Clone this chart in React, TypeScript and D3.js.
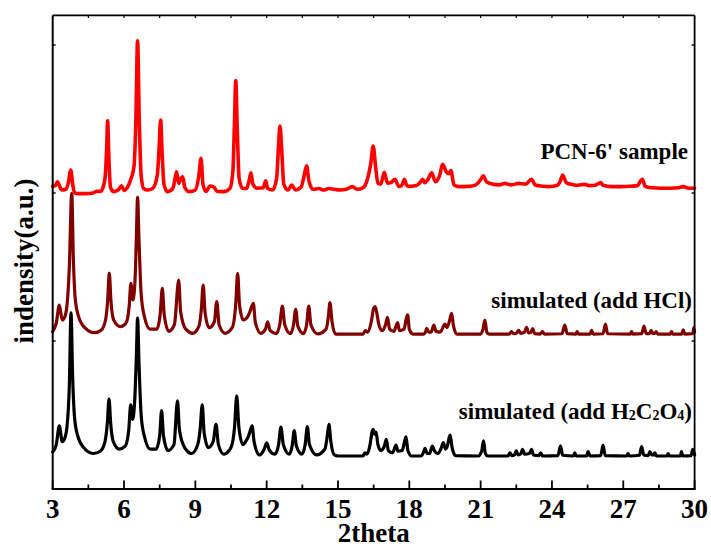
import React from "react";
import * as d3 from "d3";

// 2θ tick values
const X_TICKS = [3, 6, 9, 12, 15, 18, 21, 24, 27, 30];
const X_MINOR = [4.5, 7.5, 10.5, 13.5, 16.5, 19.5, 22.5, 25.5, 28.5];
const Y_TICKS = [0, 100, 200, 300];

// Measured pattern: PCN-6' sample (stacked intensity, a.u.)
const SAMPLE: [number, number][] = [
  [3.0, 204.5], [3.1, 204.8], [3.2, 207.6], [3.28, 205], [3.38, 202], [3.55, 202.5], [3.66, 207], [3.76, 215.5],
  [3.84, 206], [3.92, 200], [4.1, 199.6], [4.4, 199.6], [4.7, 200], [4.85, 201.2], [5.0, 201], [5.1, 203],
  [5.2, 210], [5.27, 230], [5.31, 248.8], [5.36, 225], [5.43, 204], [5.55, 200.9], [5.75, 202], [5.9, 204.9],
  [6.0, 201.8], [6.15, 204], [6.3, 209.9], [6.42, 218], [6.5, 250], [6.57, 302.9], [6.64, 250], [6.72, 212],
  [6.82, 203.2], [7.0, 202], [7.2, 203], [7.4, 212], [7.48, 232], [7.54, 249.3], [7.6, 228], [7.68, 206],
  [7.82, 200.9], [8.05, 203], [8.15, 210], [8.21, 214.4], [8.3, 206.6], [8.4, 210], [8.47, 211], [8.55, 204],
  [8.75, 200.9], [9.0, 202], [9.15, 212], [9.24, 223.4], [9.32, 206], [9.45, 201], [9.62, 204.7], [9.78, 204],
  [9.92, 201], [10.2, 200.9], [10.45, 203], [10.58, 215], [10.65, 250], [10.7, 275.9], [10.76, 245], [10.84, 210],
  [10.98, 203.2], [11.15, 203], [11.27, 209], [11.34, 213.7], [11.42, 206], [11.6, 203.2], [11.85, 203.5], [11.96, 208.3],
  [12.04, 203], [12.25, 202], [12.42, 210], [12.5, 232], [12.56, 245.3], [12.63, 230], [12.72, 206], [12.9, 202],
  [13.05, 205.3], [13.22, 202], [13.45, 204], [13.58, 212], [13.68, 218.4], [13.78, 208], [13.95, 202.5], [14.2, 203],
  [14.4, 202], [14.6, 203], [14.85, 202.5], [15.1, 202], [15.35, 202.5], [15.6, 204.3], [15.8, 202.5], [16.05, 203.5],
  [16.25, 210], [16.38, 220], [16.48, 231.8], [16.58, 218], [16.68, 206.6], [16.8, 206], [16.95, 214], [17.08, 206.6],
  [17.22, 207], [17.4, 209.3], [17.55, 204.5], [17.68, 205], [17.79, 209.3], [17.9, 204.9], [18.05, 204.5], [18.3, 205],
  [18.45, 207], [18.56, 209.3], [18.65, 207], [18.78, 209], [18.94, 213.7], [19.1, 207.6], [19.28, 212], [19.4, 219.4],
  [19.55, 214.4], [19.65, 213], [19.75, 215.1], [19.88, 205.4], [20.1, 204.3], [20.5, 204.5], [20.8, 205.5], [21.0, 209],
  [21.11, 211.7], [21.25, 207.5], [21.5, 206], [21.8, 205.5], [22.0, 206.5], [22.3, 205.5], [22.6, 206.5], [22.9, 206],
  [23.14, 209.3], [23.3, 205.4], [23.6, 204.6], [23.9, 204.3], [24.2, 205], [24.35, 208], [24.45, 212.2], [24.6, 207],
  [24.85, 205.8], [25.1, 205.2], [25.35, 205.8], [25.6, 205], [25.85, 205.4], [26.05, 207], [26.15, 205.2], [26.5, 204.3],
  [26.9, 204.3], [27.3, 204.6], [27.6, 205], [27.72, 208], [27.8, 209.3], [27.92, 204.5], [28.2, 203.5], [28.6, 203.2],
  [29.0, 203.2], [29.3, 203.5], [29.52, 204.3], [29.75, 203.2], [30.0, 203.2],
];

// Simulated pattern with HCl
const SIM_HCL: [number, number][] = [
  [3.0, 106.3], [3.15, 112], [3.28, 124.3], [3.4, 114.2], [3.5, 116], [3.6, 124], [3.7, 150], [3.8, 199.8],
  [3.87, 155], [3.95, 128], [4.08, 117], [4.35, 109], [4.75, 105.6], [5.05, 107.5], [5.22, 114], [5.31, 127],
  [5.38, 145.9], [5.45, 127], [5.57, 114], [5.85, 109.7], [6.08, 112], [6.22, 124], [6.29, 139], [6.37, 127.7],
  [6.46, 140], [6.52, 170], [6.57, 197.1], [6.63, 168], [6.72, 132], [6.85, 117], [7.1, 108], [7.38, 108],
  [7.52, 118], [7.61, 135.6], [7.69, 118], [7.88, 106.5], [8.12, 111], [8.3, 141.2], [8.38, 120], [8.6, 108],
  [8.9, 105.2], [9.15, 110], [9.25, 121], [9.33, 137.8], [9.41, 119], [9.58, 109], [9.8, 113], [9.9, 126.6],
  [10.0, 111], [10.25, 105.2], [10.55, 109], [10.7, 125], [10.78, 145.7], [10.86, 124], [11.02, 114.2], [11.2, 116.4],
  [11.3, 120], [11.44, 125.5], [11.52, 113], [11.75, 105.2], [11.95, 108], [12.04, 113], [12.15, 107], [12.4, 105],
  [12.55, 111], [12.66, 123.6], [12.76, 111], [13.0, 105], [13.13, 111], [13.22, 121.4], [13.31, 110], [13.55, 105],
  [13.68, 111], [13.77, 123.6], [13.86, 111], [14.15, 104.8], [14.5, 108], [14.6, 117], [14.66, 125.9], [14.75, 113],
  [14.9, 104.7], [16.05, 104.7], [16.15, 107], [16.25, 106], [16.4, 113], [16.5, 122.1], [16.56, 123.2], [16.62, 120],
  [16.72, 111], [16.85, 107], [17.0, 111], [17.08, 116], [17.17, 108], [17.35, 106.5], [17.51, 112.4], [17.58, 107],
  [17.78, 108], [17.87, 115], [17.93, 117.6], [18.0, 108], [18.15, 104.7], [18.6, 104.7], [18.68, 106], [18.73, 108.6],
  [18.82, 106], [18.92, 106], [19.03, 110.8], [19.12, 106.5], [19.3, 106], [19.44, 110], [19.5, 111.5], [19.58, 109],
  [19.68, 113], [19.78, 118.7], [19.86, 110], [20.0, 104.7], [21.0, 104.7], [21.1, 108], [21.18, 114.2], [21.26, 106],
  [21.35, 104.7], [22.2, 104.7], [22.3, 106.3], [22.38, 104.9], [22.5, 105.2], [22.6, 107.2], [22.68, 105.2], [22.85, 106],
  [22.93, 109.3], [23.02, 105.5], [23.12, 106], [23.19, 108.4], [23.27, 105], [23.5, 104.7], [23.6, 106.3], [23.68, 104.7],
  [24.42, 104.9], [24.54, 110.8], [24.64, 105], [25.0, 104.7], [25.06, 106.3], [25.12, 104.7], [25.6, 104.7], [25.67, 107.2],
  [25.74, 104.7], [26.15, 104.9], [26.25, 111.5], [26.34, 104.9], [27.3, 104.7], [27.35, 106.3], [27.4, 104.7], [27.78, 105],
  [27.87, 110.1], [27.96, 105], [28.12, 105], [28.17, 107.2], [28.24, 105.2], [28.32, 105.2], [28.38, 106.3], [28.45, 104.7],
  [28.98, 104.7], [29.03, 106.3], [29.08, 104.7], [29.46, 104.7], [29.52, 107.5], [29.58, 104.7], [29.92, 105], [29.97, 109],
  [30.0, 106],
];

// Simulated pattern with H2C2O4
const SIM_OXALIC: [number, number][] = [
  [3.0, 25], [3.15, 30], [3.28, 42.6], [3.4, 32], [3.5, 34], [3.6, 42], [3.7, 70], [3.77, 119],
  [3.84, 75], [3.92, 48], [4.05, 36], [4.3, 28], [4.7, 24], [5.0, 25.5], [5.2, 32], [5.3, 45],
  [5.37, 60.8], [5.44, 44], [5.55, 32], [5.8, 27], [6.05, 29], [6.2, 40], [6.28, 56.8], [6.36, 47],
  [6.45, 60], [6.52, 90], [6.57, 115.5], [6.63, 85], [6.72, 50], [6.85, 36], [7.1, 27], [7.35, 27],
  [7.5, 36], [7.58, 52.9], [7.66, 36], [7.85, 26], [8.1, 30], [8.25, 59.5], [8.33, 40], [8.55, 28],
  [8.85, 24], [9.1, 30], [9.2, 40], [9.29, 56.8], [9.37, 38], [9.55, 28], [9.75, 32], [9.87, 43.7],
  [9.97, 30], [10.2, 23.5], [10.5, 28], [10.65, 42], [10.74, 63], [10.83, 42], [11.0, 30], [11.15, 33],
  [11.22, 35], [11.32, 40], [11.39, 42.6], [11.47, 32], [11.7, 23], [11.9, 27], [12.0, 31.1], [12.12, 26],
  [12.35, 23.5], [12.5, 30], [12.6, 41.9], [12.7, 30], [12.95, 23.5], [13.08, 30], [13.16, 39.4], [13.25, 29],
  [13.48, 23.5], [13.62, 30], [13.71, 42.1], [13.8, 30], [14.1, 23], [14.45, 27], [14.55, 36], [14.62, 43.7],
  [14.7, 32], [14.85, 23], [15.0, 22.3], [16.05, 22.3], [16.13, 24.5], [16.22, 23.5], [16.35, 30], [16.44, 39],
  [16.48, 40.3], [16.54, 37], [16.6, 38.5], [16.68, 30], [16.8, 26], [16.95, 29], [17.03, 33.5], [17.12, 26],
  [17.3, 24.5], [17.44, 29.7], [17.52, 25.5], [17.7, 26], [17.8, 32], [17.86, 35.3], [17.94, 26], [18.1, 22.3],
  [18.5, 22.3], [18.6, 25], [18.66, 27.5], [18.75, 24], [18.85, 24], [18.97, 29], [19.05, 26], [19.2, 24],
  [19.35, 28], [19.43, 31.3], [19.52, 27], [19.6, 29], [19.68, 35], [19.72, 36.5], [19.8, 28], [19.95, 22.5],
  [20.9, 22.3], [21.05, 26], [21.12, 32.6], [21.2, 24], [21.3, 22.3], [22.15, 22.3], [22.23, 24.5], [22.32, 22.5],
  [22.42, 23], [22.5, 25.7], [22.58, 23], [22.7, 24], [22.76, 26.8], [22.85, 23.5], [23.05, 24], [23.14, 26.8],
  [23.22, 23], [23.45, 22.5], [23.53, 24.5], [23.6, 22.3], [24.25, 22.5], [24.36, 29.1], [24.45, 22.8], [24.9, 22.3],
  [24.96, 24.5], [25.02, 22.3], [25.45, 22.3], [25.52, 25.3], [25.6, 22.3], [26.05, 22.5], [26.15, 29.7], [26.24, 22.5],
  [27.15, 22.3], [27.2, 24], [27.26, 22.3], [27.68, 22.8], [27.77, 28.6], [27.86, 23], [28.05, 22.5], [28.12, 25.3],
  [28.2, 23], [28.28, 23], [28.33, 24.5], [28.4, 22.3], [28.85, 22.3], [28.89, 24], [28.95, 22.3], [29.4, 22.3],
  [29.45, 25.3], [29.5, 22.3], [29.85, 22.5], [29.92, 26.8], [30.0, 23],
];

const SERIES = [
  { name: "PCN-6' sample", data: SAMPLE, color: "#ff0000", width: 3.6 },
  { name: "simulated (add HCl)", data: SIM_HCL, color: "#800000", width: 3.2 },
  { name: "simulated (add H2C2O4)", data: SIM_OXALIC, color: "#000000", width: 3.2 },
];

const W = 711;
const H = 544;
const FONT = "'Liberation Serif', 'Times New Roman', serif";

export default function App() {
  const x = d3.scaleLinear().domain([3, 30]).range([52.7, 694.6]);
  const y = d3.scaleLinear().domain([0, 320]).range([489, 15.4]);
  const [x0, x1] = x.range();
  const [yb, yt] = y.range();

  const line = d3
    .line<[number, number]>()
    .x((d) => x(d[0]))
    .y((d) => y(d[1]))
    .curve(d3.curveMonotoneX);

  return (
    <svg
      width={W}
      height={H}
      viewBox={`0 0 ${W} ${H}`}
      style={{ position: "absolute", left: 0, top: 0, background: "#fff" }}
    >
      <rect width={W} height={H} fill="#fff" />
      {SERIES.map((s) => (
        <path
          key={s.name}
          d={line(s.data) || ""}
          fill="none"
          stroke={s.color}
          strokeWidth={s.width}
          strokeLinejoin="round"
          strokeLinecap="round"
        />
      ))}

      {/* frame */}
      <g stroke="#000" fill="none">
        <line x1={x0} x2={x1} y1={yt} y2={yt} strokeWidth={1.6} />
        <line x1={x1} x2={x1} y1={yt} y2={yb} strokeWidth={1.8} />
        <line x1={x0} x2={x0} y1={yt} y2={yb} strokeWidth={2} />
        <line x1={x0 - 1} x2={x1 + 1} y1={yb} y2={yb} strokeWidth={2.2} />
      </g>

      {/* ticks: all pointing into the plot */}
      <g stroke="#000" strokeWidth={1.8}>
        {X_TICKS.map((t) => (
          <line key={"b" + t} x1={x(t)} x2={x(t)} y1={yb} y2={yb - 8.5} />
        ))}
        {X_MINOR.map((t) => (
          <line key={"bm" + t} x1={x(t)} x2={x(t)} y1={yb} y2={yb - 4.5} />
        ))}
        {X_TICKS.map((t) => (
          <line key={"t" + t} x1={x(t)} x2={x(t)} y1={yt} y2={yt + 2.5} strokeWidth={1.2} />
        ))}
        {X_MINOR.map((t) => (
          <line key={"tm" + t} x1={x(t)} x2={x(t)} y1={yt} y2={yt + 2.5} strokeWidth={1.2} />
        ))}
        {Y_TICKS.slice(1).map((t) => (
          <line key={"l" + t} x1={x0} x2={x0 + 3} y1={y(t)} y2={y(t)} strokeWidth={1.4} />
        ))}
        {Y_TICKS.slice(1).map((t) => (
          <line key={"r" + t} x1={x1} x2={x1 - 3} y1={y(t)} y2={y(t)} strokeWidth={1.4} />
        ))}
      </g>

      {/* tick labels */}
      <g fontFamily={FONT} fontWeight="bold" fontSize={27} textAnchor="middle" fill="#000">
        {X_TICKS.map((t) => (
          <text key={"lab" + t} x={x(t)} y={518}>
            {t}
          </text>
        ))}
      </g>

      {/* axis titles */}
      <text
        x={(x0 + x1) / 2}
        y={542}
        textAnchor="middle"
        fontFamily={FONT}
        fontWeight="bold"
        fontSize={27}
      >
        2theta
      </text>
      <text
        transform={`translate(33,261) rotate(-90)`}
        textAnchor="middle"
        fontFamily={FONT}
        fontWeight="bold"
        fontSize={27}
      >
        indensity(a.u.)
      </text>

      {/* series labels */}
      <g fontFamily={FONT} fontWeight="bold" fontSize={23} textAnchor="end" fill="#000">
        <text x={688} y={158.5}>
          PCN-6' sample
        </text>
        <text x={692} y={308}>
          simulated (add HCl)
        </text>
        <text x={692} y={419}>
          simulated (add H
          <tspan fontSize={14} dy={1}>2</tspan>
          <tspan dy={-1}>C</tspan>
          <tspan fontSize={14} dy={1}>2</tspan>
          <tspan dy={-1}>O</tspan>
          <tspan fontSize={14} dy={1}>4</tspan>
          <tspan dy={-1}>)</tspan>
        </text>
      </g>
    </svg>
  );
}
